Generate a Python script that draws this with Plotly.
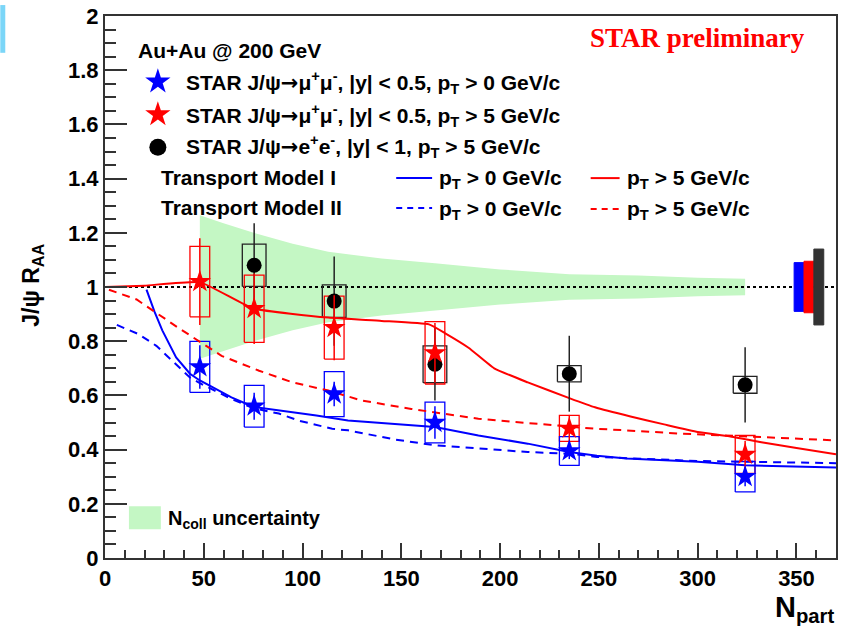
import plotly.graph_objects as go

# ---------------- data ----------------
# Npart of the centrality classes
npart_mu = [48, 75.5, 116, 167, 235, 324]
npart_ee = [75.5, 116, 167, 235, 324]

# STAR J/psi -> mu+mu-, |y|<0.5, pT>0 GeV/c
raa_mu_pt0 = [0.705, 0.56, 0.605, 0.50, 0.395, 0.30]
stat_mu_pt0 = [0.08, 0.05, 0.045, 0.06, 0.03, 0.035]
sys_mu_pt0 = [0.094, 0.077, 0.083, 0.075, 0.053, 0.056]

# STAR J/psi -> mu+mu-, |y|<0.5, pT>5 GeV/c
raa_mu_pt5 = [1.02, 0.92, 0.85, 0.757, 0.478, 0.382]
stat_mu_pt5 = [0.16, 0.13, 0.12, 0.11, 0.05, 0.05]
sys_mu_pt5 = [0.13, 0.124, 0.116, 0.115, 0.048, 0.07]

# STAR J/psi -> e+e-, |y|<1, pT>5 GeV/c
raa_ee_pt5 = [1.08, 0.948, 0.715, 0.68, 0.639]
stat_ee_pt5 = [0.155, 0.165, 0.134, 0.14, 0.139]
sys_ee_pt5 = [0.078, 0.06, 0.068, 0.03, 0.031]

# Transport model I
m1_pt0_x = [21, 25, 29, 32, 36, 43, 48, 53, 64, 75, 90, 107, 123, 140, 167, 189, 214, 235, 249, 264, 300, 324, 350, 370]
m1_pt0_y = [0.99, 0.91, 0.84, 0.795, 0.74, 0.68, 0.655, 0.636, 0.593, 0.558, 0.544, 0.526, 0.507, 0.497, 0.483,
            0.452, 0.422, 0.391, 0.377, 0.367, 0.355, 0.342, 0.339, 0.334]
m1_pt5_x = [0, 20, 48, 75, 113, 140, 164, 172, 184, 197, 214, 235, 248, 266, 283, 300, 316, 333, 350, 370]
m1_pt5_y = [1.0, 1.005, 1.018, 0.921, 0.887, 0.875, 0.862, 0.83, 0.776, 0.70, 0.648, 0.59, 0.556, 0.522,
            0.493, 0.465, 0.449, 0.426, 0.406, 0.383]

# Transport model II
m2_pt0_x = [6, 17, 26, 36, 43, 48, 64, 75, 88, 98, 115, 123, 147, 167, 214, 235, 249, 300, 350, 370]
m2_pt0_y = [0.86, 0.826, 0.783, 0.716, 0.666, 0.645, 0.587, 0.553, 0.533, 0.507, 0.477, 0.471, 0.437, 0.416,
            0.391, 0.385, 0.373, 0.358, 0.351, 0.35]
m2_pt5_x = [2, 16, 37, 59, 78, 95, 113, 130, 155, 189, 214, 248, 264, 291, 333, 370]
m2_pt5_y = [0.99, 0.954, 0.85, 0.746, 0.691, 0.648, 0.618, 0.581, 0.55, 0.514, 0.498, 0.477, 0.471, 0.459,
            0.446, 0.434]

# Ncoll uncertainty band (half width around 1)
ncoll_x = [48, 60, 76, 95, 113, 140, 167, 178, 200, 235, 270, 300, 324]
ncoll_hw = [0.265, 0.235, 0.198, 0.16, 0.13, 0.105, 0.088, 0.08, 0.065, 0.047, 0.042, 0.034, 0.03]

# global uncertainties (mu pT>0, mu pT>5, ee pT>5)
glob_x = [351.3, 356.3, 361.3]
glob_unc = [0.09, 0.095, 0.14]

X_RANGE = [0, 370]
Y_RANGE = [0, 2]

BLUE = "#0000ff"
RED = "#ff0000"
BLACK = "#000000"
GREEN = "#c4f7c4"
FONT = "Liberation Sans"
ARROW = '<span style="font-family:DejaVu Sans">→</span>'

# plot frame in page pixels
PL, PR, PT, PB = 105, 838, 13, 558


def fx(p):
    return (p - PL) / (PR - PL)


def fy(p):
    return (PB - p) / (PB - PT)


fig = go.Figure()

# Ncoll band
band_x = ncoll_x + ncoll_x[::-1]
band_y = [1 + h for h in ncoll_hw] + [1 - h for h in ncoll_hw[::-1]]
fig.add_trace(go.Scatter(x=band_x, y=band_y, fill="toself", fillcolor=GREEN,
                         line=dict(width=0), mode="lines", hoverinfo="skip"))

# unity line
fig.add_trace(go.Scatter(x=X_RANGE, y=[1, 1], mode="lines",
                         line=dict(color=BLACK, width=2, dash="3px,3px")))


def box_trace(xs, ys, errs, half_w, color):
    bx, by = [], []
    for x, y, e in zip(xs, ys, errs):
        bx += [x - half_w, x + half_w, x + half_w, x - half_w, x - half_w, None]
        by += [y - e, y - e, y + e, y + e, y - e, None]
    return go.Scatter(x=bx, y=by, mode="lines", line=dict(color=color, width=1.3),
                      hoverinfo="skip")


def glob_trace(x, unc, half_w, color):
    return go.Scatter(x=[x - half_w, x + half_w, x + half_w, x - half_w, x - half_w],
                      y=[1 - unc, 1 - unc, 1 + unc, 1 + unc, 1 - unc],
                      fill="toself", fillcolor=color, mode="lines",
                      line=dict(color=color, width=1), hoverinfo="skip")


# systematic boxes
fig.add_trace(box_trace(npart_ee, raa_ee_pt5, sys_ee_pt5, 6, "#222222"))
fig.add_trace(box_trace(npart_mu, raa_mu_pt5, sys_mu_pt5, 5, RED))
fig.add_trace(box_trace(npart_mu, raa_mu_pt0, sys_mu_pt0, 5, BLUE))

# model curves
fig.add_trace(go.Scatter(x=m1_pt0_x, y=m1_pt0_y, mode="lines", line=dict(color=BLUE, width=2)))
fig.add_trace(go.Scatter(x=m2_pt0_x, y=m2_pt0_y, mode="lines", line=dict(color=BLUE, width=2, dash="8px,6px")))
fig.add_trace(go.Scatter(x=m1_pt5_x, y=m1_pt5_y, mode="lines", line=dict(color=RED, width=2, shape="spline", smoothing=0.4)))
fig.add_trace(go.Scatter(x=m2_pt5_x, y=m2_pt5_y, mode="lines", line=dict(color=RED, width=2, dash="8px,6px")))

# data points with statistical errors
fig.add_trace(go.Scatter(x=npart_ee, y=raa_ee_pt5, mode="markers",
                         marker=dict(symbol="circle", size=15, color=BLACK),
                         error_y=dict(type="data", array=stat_ee_pt5, color="#222222", thickness=1.5, width=0)))
fig.add_trace(go.Scatter(x=npart_mu, y=raa_mu_pt5, mode="markers",
                         marker=dict(symbol="star", size=17, color=RED),
                         error_y=dict(type="data", array=stat_mu_pt5, color=RED, thickness=1.5, width=0)))
fig.add_trace(go.Scatter(x=npart_mu, y=raa_mu_pt0, mode="markers",
                         marker=dict(symbol="star", size=17, color=BLUE),
                         error_y=dict(type="data", array=stat_mu_pt0, color=BLUE, thickness=1.5, width=0)))

# global uncertainty boxes
fig.add_trace(glob_trace(glob_x[0], glob_unc[0], 2.5, BLUE))
fig.add_trace(glob_trace(glob_x[1], glob_unc[1], 2.5, RED))
fig.add_trace(glob_trace(glob_x[2], glob_unc[2], 2.5, "#333333"))

# legend symbols, placed in page pixel coordinates on an overlay axis
leg_sym_x = [158, 158, 158]
leg_sym_y = [79, 112, 145]
fig.add_trace(go.Scatter(x=leg_sym_x[:1], y=leg_sym_y[:1], xaxis="x2", yaxis="y2", mode="markers",
                         marker=dict(symbol="star", size=19, color=BLUE)))
fig.add_trace(go.Scatter(x=leg_sym_x[1:2], y=leg_sym_y[1:2], xaxis="x2", yaxis="y2", mode="markers",
                         marker=dict(symbol="star", size=19, color=RED)))
fig.add_trace(go.Scatter(x=leg_sym_x[2:], y=leg_sym_y[2:], xaxis="x2", yaxis="y2", mode="markers",
                         marker=dict(symbol="circle", size=17, color=BLACK)))

shapes = []
# legend line samples
for (x0, x1, yy, col, dash) in [(397, 433, 176, BLUE, "solid"), (592, 621, 176, RED, "solid"),
                                (397, 433, 206, BLUE, "6px,5px"), (592, 621, 207, RED, "6px,5px")]:
    shapes.append(dict(type="line", xref="paper", yref="paper", x0=fx(x0), x1=fx(x1), y0=fy(yy), y1=fy(yy),
                       line=dict(color=col, width=2, dash=dash)))
# Ncoll legend swatch
shapes.append(dict(type="rect", xref="paper", yref="paper", x0=fx(129), x1=fx(161), y0=fy(529), y1=fy(506),
                   fillcolor=GREEN, line=dict(width=0)))
# cyan edge strip
shapes.append(dict(type="rect", xref="paper", yref="paper", x0=fx(0), x1=fx(5), y0=fy(50), y1=fy(2),
                   fillcolor="#4fc8f5", opacity=0.75, line=dict(width=0)))

bold = dict(family=FONT, size=21, color=BLACK, weight="bold")


def label(text, x, y, font=None, xanchor="left", yanchor="middle", angle=0):
    return dict(text=text, xref="paper", yref="paper", x=fx(x), y=fy(y), showarrow=False,
                xanchor=xanchor, yanchor=yanchor, textangle=angle, font=font or bold)


annotations = [
    label("Au+Au @ 200 GeV", 136, 48),
    label("STAR J/ψ" + ARROW + "μ<sup>+</sup>μ<sup>-</sup>, |y| &lt; 0.5, p<sub>T</sub> &gt; 0 GeV/c", 184, 80),
    label("STAR J/ψ" + ARROW + "μ<sup>+</sup>μ<sup>-</sup>, |y| &lt; 0.5, p<sub>T</sub> &gt; 5 GeV/c", 184, 113),
    label("STAR J/ψ" + ARROW + "e<sup>+</sup>e<sup>-</sup>, |y| &lt; 1, p<sub>T</sub> &gt; 5 GeV/c", 184, 144),
    label("Transport Model I", 159, 175),
    label("Transport Model II", 159, 206),
    label("p<sub>T</sub> &gt; 0 GeV/c", 438, 177),
    label("p<sub>T</sub> &gt; 5 GeV/c", 626, 177),
    label("p<sub>T</sub> &gt; 0 GeV/c", 438, 208),
    label("p<sub>T</sub> &gt; 5 GeV/c", 626, 208),
    label("N<sub>coll</sub> uncertainty", 166, 519, font=dict(family=FONT, size=20, color=BLACK, weight="bold")),
    label("STAR preliminary", 809, 35, font=dict(family="Liberation Serif", size=27, color=RED, weight="bold"),
          xanchor="right"),
    label("J/ψ R<sub>AA</sub>", 32, 284, font=dict(family=FONT, size=23, color=BLACK, weight="bold"),
          xanchor="center", angle=-90),
    label("N<sub>part</sub>", 839, 609, font=dict(family=FONT, size=29, color=BLACK, weight="bold"),
          xanchor="right"),
]

tickfont = dict(family=FONT, size=22, color=BLACK, weight="bold")

fig.update_layout(
    width=842, height=626,
    margin=dict(l=PL, r=842 - PR, t=PT, b=626 - PB),
    paper_bgcolor="white", plot_bgcolor="white",
    showlegend=False,
    shapes=shapes,
    annotations=annotations,
    xaxis=dict(range=X_RANGE, showgrid=False, zeroline=False, showline=True, linecolor="#333333", linewidth=2,
               mirror=True, ticks="inside", ticklen=15, tickwidth=1.5, tickcolor="#333333",
               tick0=0, dtick=50, tickfont=tickfont,
               minor=dict(ticks="inside", ticklen=8, dtick=10, tickcolor="#333333", tickwidth=1.5)),
    yaxis=dict(range=Y_RANGE, showgrid=False, zeroline=False, showline=True, linecolor="#333333", linewidth=2,
               mirror=True, ticks="inside", ticklen=22, tickwidth=1.5, tickcolor="#333333",
               tick0=0, dtick=0.2, tickfont=tickfont, tickformat=".1~f",
               minor=dict(ticks="inside", ticklen=11, dtick=0.05, tickcolor="#333333", tickwidth=1.5)),
    xaxis2=dict(overlaying="x", range=[PL, PR], visible=False),
    yaxis2=dict(overlaying="y", range=[PB, PT], visible=False),
)

fig.write_html("out.html")
